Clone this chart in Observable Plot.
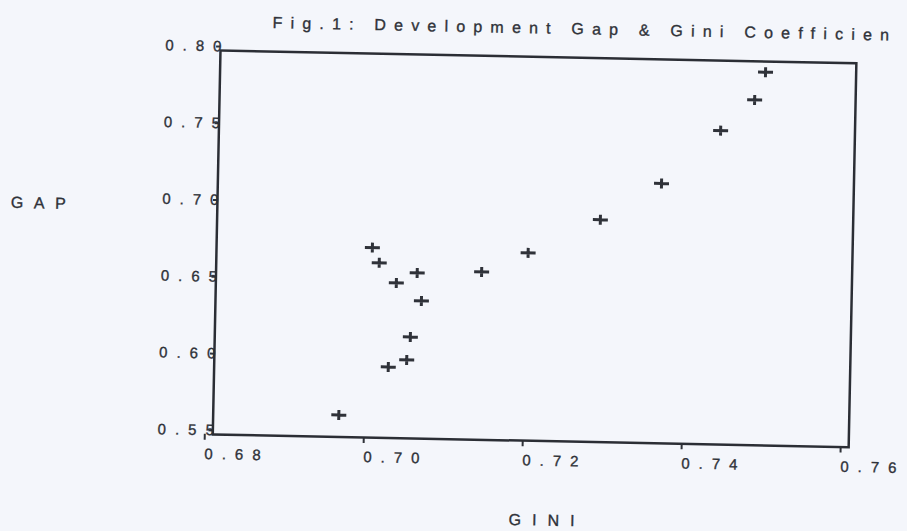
<!DOCTYPE html>
<html>
<head>
<meta charset="utf-8">
<script src="https://cdn.jsdelivr.net/npm/d3@7"></script>
<script src="https://cdn.jsdelivr.net/npm/@observablehq/plot@0.6"></script>
<style>
  html, body { margin: 0; padding: 0; background: #f4f6fb; overflow: hidden; }
  #wrap { width: 907px; height: 531px; transform: rotate(1.15deg); transform-origin: 220px 50px; }
  svg text { font-family: "Liberation Sans", Arial, sans-serif; }
</style>
</head>
<body>
<div id="wrap"></div>
<script>
// GINI (x) and GAP (y) values
const gini = [0.7486, 0.7473, 0.7431, 0.7358, 0.7282, 0.7192, 0.7134, 0.7053, 0.7059, 0.6996, 0.7005, 0.7027, 0.7046, 0.7042, 0.7019, 0.6958];
const gap  = [0.793, 0.7748, 0.7544, 0.7192, 0.6948, 0.6723, 0.6593, 0.6578, 0.6396, 0.6737, 0.6639, 0.651, 0.616, 0.601, 0.5962, 0.5643];
const xTicks = [0.68, 0.70, 0.72, 0.74, 0.76];
const yTicks = [0.55, 0.60, 0.65, 0.70, 0.75, 0.80];
const titleText = "Fig.1: Development Gap & Gini Coefficien";
const xLabel = "GINI";
const yLabel = "GAP";

const data = gini.map((g, i) => ({gini: g, gap: gap[i]}));

const ink = "#2f3239";

const plusSymbol = {
  draw(context, size) {
    const r = Math.sqrt(size / Math.PI);
    context.moveTo(-r * 1.5, 0);
    context.lineTo(r * 1.5, 0);
    context.moveTo(0, -r);
    context.lineTo(0, r);
  }
};

const chart = Plot.plot({
  width: 907,
  height: 531,
  marginLeft: 220,
  marginTop: 50,
  marginRight: 51,
  marginBottom: 97,
  style: {background: "transparent", color: ink, fontFamily: "Liberation Sans, Arial, sans-serif"},
  x: {domain: [0.68, 0.76], label: null},
  y: {domain: [0.55, 0.80], label: null},
  marks: [
    Plot.axisX(xTicks, {tickFormat: d3.format(".2f"), tickSize: 6, tickPadding: 8, textAnchor: "start", dx: -8, fontSize: 15, stroke: ink, strokeWidth: 2, fill: ink, label: null}),
    Plot.axisY(yTicks, {tickFormat: d3.format(".2f"), tickSize: 4, tickPadding: -14, dy: -4, fontSize: 15, stroke: ink, strokeWidth: 2, fill: ink, label: null}),
    Plot.frame({stroke: "#2b2e35", strokeWidth: 2.5}),
    Plot.dot(data, {x: "gini", y: "gap", symbol: plusSymbol, r: 5, stroke: ink, strokeWidth: 3, fill: "none"})
  ]
});

const svg = d3.select(chart);
svg.selectAll("g[aria-label='x-axis tick label'] text, g[aria-label='y-axis tick label'] text")
  .style("letter-spacing", "9px").attr("stroke", ink).attr("stroke-width", 0.35);
svg.append("text").attr("x", 272).attr("y", 27).attr("font-size", 16).attr("fill", ink)
  .attr("stroke", ink).attr("stroke-width", 0.35)
  .attr("text-anchor", "start").style("letter-spacing", "8.2px").text(titleText);
svg.append("text").attr("x", 14).attr("y", 212).attr("font-size", 16).attr("fill", ink)
  .attr("stroke", ink).attr("stroke-width", 0.35)
  .attr("text-anchor", "start").style("letter-spacing", "10.5px").text(yLabel);
svg.append("text").attr("x", 518).attr("y", 519).attr("font-size", 16).attr("fill", ink)
  .attr("stroke", ink).attr("stroke-width", 0.35)
  .attr("text-anchor", "start").style("letter-spacing", "11px").text(xLabel);

document.getElementById("wrap").appendChild(chart);
</script>
</body>
</html>
